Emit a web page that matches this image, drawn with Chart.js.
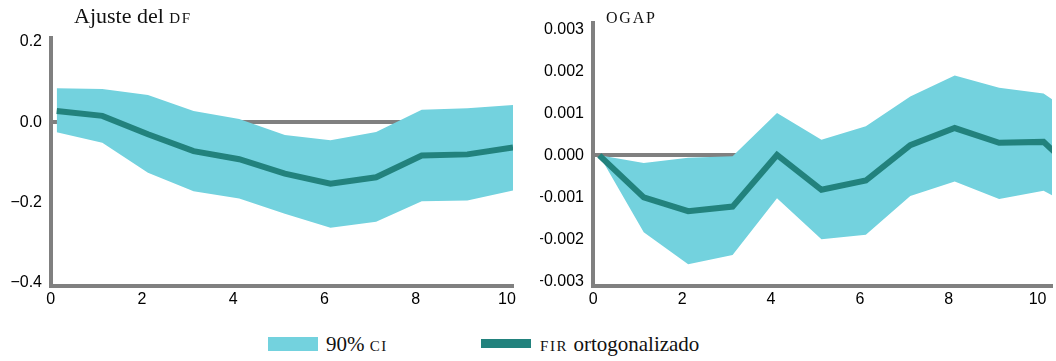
<!DOCTYPE html>
<html lang="es">
<head>
<meta charset="UTF-8">
<title>FIR ortogonalizado</title>
<script src="https://cdn.jsdelivr.net/npm/chart.js"></script>
<style>
  body { margin: 0; background: #fff; }
  .page { position: relative; width: 1056px; height: 361px; overflow: hidden; }
  .panel { position: absolute; top: 0; width: 516px; height: 310px; }
  .title { position: absolute; font-family: "Liberation Serif", serif; font-size: 22px; color: #111; white-space: nowrap; line-height: 1; }
  .legend-item { position: absolute; font-family: "Liberation Serif", serif; font-size: 21px; color: #111; white-space: nowrap; line-height: 1; top: 334px; }
  .sc { text-transform: uppercase; font-size: 15px; letter-spacing: 1.6px; }
  .swatch { position: absolute; }
</style>
</head>
<body>
<div class="page">
  <div class="panel" style="left:0"><canvas id="dfChart"></canvas></div>
  <div class="panel" style="left:540px"><canvas id="ogapChart"></canvas></div>

  <!-- títulos de cada panel -->
  <div class="title" style="left:74px; top:5px">Ajuste del <span class="sc">df</span></div>
  <div class="title" style="left:606px; top:5px"><span class="sc" style="font-size:16px; letter-spacing:1.8px">ogap</span></div>

  <!-- leyenda común -->
  <div class="swatch" style="left:268px; top:337px; width:50px; height:14px; background:#73d2de"></div>
  <div class="legend-item" style="left:326px">90% <span class="sc">ci</span></div>
  <div class="swatch" style="left:481px; top:339px; width:50px; height:9px; background:#22827d"></div>
  <div class="legend-item" style="left:540px"><span class="sc">fir</span> ortogonalizado</div>
</div>

<script>
// horizonte (periodos)
const horizonDf = [0, 1, 2, 3, 4, 5, 6, 7, 8, 9, 10];
const horizonOgap = [0, 1, 2, 3, 4, 5, 6, 7, 8, 9, 10, 11];

// Ajuste del DF
const dfFir   = [0.028, 0.016, -0.030, -0.072, -0.092, -0.128, -0.153, -0.137, -0.083, -0.080, -0.063];
const dfUpper = [0.085, 0.083, 0.068, 0.028, 0.008, -0.032, -0.045, -0.024, 0.031, 0.035, 0.043];
const dfLower = [-0.025, -0.051, -0.126, -0.172, -0.190, -0.228, -0.263, -0.248, -0.197, -0.195, -0.170];

// OGAP
const ogapFir   = [0, -0.00100, -0.00133, -0.00122, 0.00001, -0.00082, -0.00060, 0.00024, 0.00065, 0.00030, 0.00032, -0.00066];
const ogapUpper = [0, -0.00018, -0.00006, -0.00002, 0.00101, 0.00037, 0.00069, 0.00140, 0.00190, 0.00161, 0.00147, 0.00075];
const ogapLower = [0, -0.00183, -0.00259, -0.00237, -0.00102, -0.00200, -0.00189, -0.00097, -0.00062, -0.00104, -0.00084, -0.00142];

// ejes
const xTicks = [0, 2, 4, 6, 8, 10];
const dfYTicks = [-0.4, -0.2, 0.0, 0.2];
const dfYLabels = ['\u22120.4', '\u22120.2', '0.0', '0.2'];
const ogapYTicks = [-0.003, -0.002, -0.001, 0, 0.001, 0.002, 0.003];
const ogapYLabels = ['\u22120.003', '\u22120.002', '\u22120.001', '0.000', '0.001', '0.002', '0.003'];

const CI_COLOR = '#73d2de';
const FIR_COLOR = '#22827d';
const AXIS_COLOR = '#808080';

function pts(xs, ys) {
    return xs.map((x, i) => ({ x: x, y: ys[i] }));
}

function makeChart(id, opt) {
    const tickFont = { family: '"Liberation Sans", Arial, sans-serif', size: 16 };
    return new Chart(document.getElementById(id), {
        type: 'line',
        data: {
            datasets: [
                { data: pts(opt.horizon, opt.fir), borderColor: FIR_COLOR, borderWidth: 6,
                  borderJoinStyle: 'miter', borderCapStyle: 'butt', fill: false, order: 0 },
                { data: pts(opt.horizon, opt.upper), borderWidth: 0, backgroundColor: CI_COLOR,
                  fill: '+1', order: 1 },
                { data: pts(opt.horizon, opt.lower), borderWidth: 0, fill: false, order: 2 }
            ]
        },
        options: {
            responsive: false,
            animation: false,
            elements: { point: { radius: 0, hoverRadius: 0 }, line: { tension: 0 } },
            layout: { padding: { top: opt.top, right: opt.right, left: 0, bottom: 0 } },
            plugins: { legend: { display: false }, tooltip: { enabled: false } },
            scales: {
                x: {
                    type: 'linear', min: opt.xMin, max: opt.xMax,
                    afterBuildTicks: s => { s.ticks = xTicks.map(v => ({ value: v })); },
                    afterFit: s => { s.height = 24; s.paddingLeft = 0; s.paddingRight = 0; },
                    grid: { display: false, drawTicks: false },
                    border: { display: true, color: AXIS_COLOR, width: 4 },
                    ticks: { color: '#000', font: tickFont, padding: 4, labelOffset: -6, maxRotation: 0 }
                },
                y: {
                    min: opt.yMin, max: opt.yMax,
                    afterBuildTicks: s => { s.ticks = opt.yTicks.map(v => ({ value: v })); },
                    afterFit: s => { s.width = opt.left; s.paddingTop = 0; s.paddingBottom = 0; },
                    grid: {
                        drawTicks: false,
                        lineWidth: 4,
                        color: c => (c.tick && c.tick.value === 0 ? AXIS_COLOR : 'rgba(0,0,0,0)')
                    },
                    border: { display: true, color: AXIS_COLOR, width: 4 },
                    ticks: {
                        color: '#000', font: tickFont, padding: 9,
                        callback: v => {
                            const i = opt.yTicks.findIndex(t => Math.abs(t - v) < 1e-9);
                            return i >= 0 ? opt.yLabels[i] : '';
                        }
                    }
                }
            }
        }
    });
}

const dfCanvas = document.getElementById('dfChart');
dfCanvas.width = 516; dfCanvas.height = 310;
const ogapCanvas = document.getElementById('ogapChart');
ogapCanvas.width = 516; ogapCanvas.height = 310;

makeChart('dfChart', {
    horizon: horizonDf, fir: dfFir, upper: dfUpper, lower: dfLower,
    xMin: -0.125, xMax: 10, yMin: -0.408, yMax: 0.21,
    yTicks: dfYTicks, yLabels: dfYLabels,
    top: 38, right: 3, left: 51
});

makeChart('ogapChart', {
    horizon: horizonOgap, fir: ogapFir, upper: ogapUpper, lower: ogapLower,
    xMin: -0.142, xMax: 10.19, yMin: -0.00311, yMax: 0.00315,
    yTicks: ogapYTicks, yLabels: ogapYLabels,
    top: 23, right: 4, left: 53
});
</script>
</body>
</html>
